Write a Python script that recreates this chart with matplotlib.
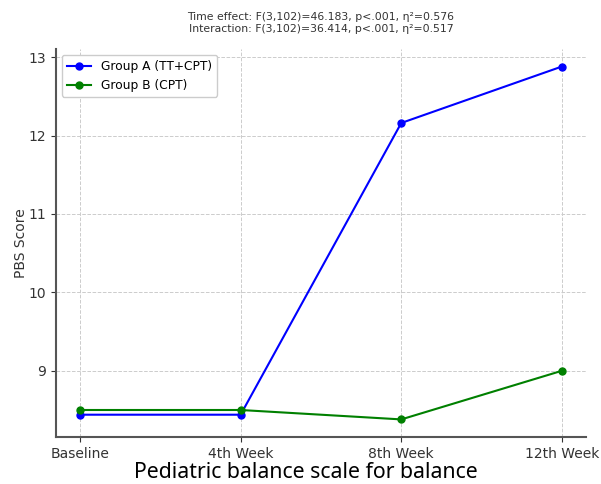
import matplotlib.pyplot as plt

# time points and group means
timepoints = ['Baseline', '4th Week', '8th Week', '12th Week']
group_a = [8.44, 8.44, 12.16, 12.88]
group_b = [8.50, 8.50, 8.38, 9.00]

fig = plt.figure(figsize=(6.01, 4.84), dpi=100)
ax = fig.add_axes([0.093, 0.097, 0.882, 0.802])

x = range(len(timepoints))
ax.plot(x, group_a, color='blue', marker='o', markersize=5, linewidth=1.5, label='Group A (TT+CPT)')
ax.plot(x, group_b, color='green', marker='o', markersize=5, linewidth=1.5, label='Group B (CPT)')

ax.set_xticks(list(x))
ax.set_xticklabels(timepoints, fontsize=10, color='#333333')
ax.set_yticks([9, 10, 11, 12, 13])
ax.tick_params(axis='y', labelsize=10, colors='#333333')
ax.tick_params(axis='x', colors='#333333')

ax.grid(True, linestyle='--', color='#cccccc', linewidth=0.7)
ax.set_axisbelow(True)
for s in ['top', 'right']:
    ax.spines[s].set_visible(False)
for s in ['left', 'bottom']:
    ax.spines[s].set_color('#555555')
    ax.spines[s].set_linewidth(1.5)

ax.set_ylabel('PBS Score', fontsize=10, color='#333333', labelpad=0.5)
ax.set_xlabel('Pediatric balance scale for balance', fontsize=15.3, family='Noto Sans',
              va='baseline')
ax.xaxis.set_label_coords(0.472, -0.106)
ax.set_title('Time effect: F(3,102)=46.183, p<.001, η²=0.576\n'
             'Interaction: F(3,102)=36.414, p<.001, η²=0.517',
             fontsize=7.8, color='#333333', pad=12, linespacing=1.3)

ax.legend(loc='upper left', fontsize=8.8, framealpha=1, edgecolor='#cccccc')

fig.savefig('out.png', dpi=100)
